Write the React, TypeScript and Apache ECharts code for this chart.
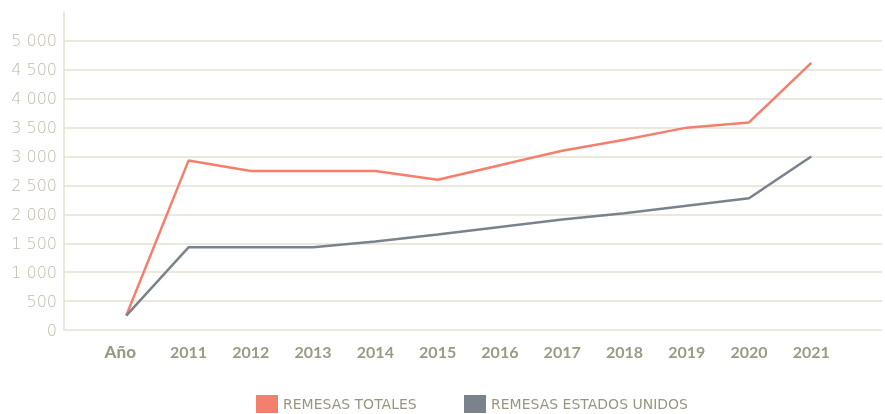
import React, { useEffect, useRef } from "react";
import * as echarts from "echarts";

const categories = ["Año", "2011", "2012", "2013", "2014", "2015", "2016", "2017", "2018", "2019", "2020", "2021"];
const remesasTotales = [250, 2930, 2750, 2750, 2750, 2600, 2850, 3100, 3290, 3500, 3590, 4620];
const remesasEEUU = [250, 1430, 1430, 1430, 1530, 1650, 1780, 1910, 2020, 2150, 2280, 3000];
const yTicks = [0, 500, 1000, 1500, 2000, 2500, 3000, 3500, 4000, 4500, 5000, 5500];

const ORANGE = "#f47f6d";
const GRAY = "#7a838b";
const GRID = "#e5e2d3";

export default function App() {
  const ref = useRef<HTMLDivElement>(null);
  useEffect(() => {
    if (!ref.current) return;
    const chart = echarts.init(ref.current, null, { renderer: "svg" });
    const toPairs = (arr: number[]) => arr.map((v, i) => [i + 1, v]);
    chart.setOption({
      animation: false,
      grid: { left: 64, width: 821, top: 12, height: 318, containLabel: false },
      xAxis: {
        type: "value",
        min: 0,
        max: 13.136,
        interval: 1,
        axisLine: { show: false },
        axisTick: { show: false },
        splitLine: { show: false },
        axisLabel: {
          margin: 13,
          fontFamily: "Lato",
          fontSize: 16,
          fontWeight: 700,
          color: "#9b9986",
          formatter: (v: number) => {
            const i = Math.round(v) - 1;
            if (Math.abs(v - Math.round(v)) > 1e-6 || i < 0 || i >= categories.length) return "";
            return i === 0 ? "{a|" + categories[i] + "}" : categories[i];
          },
          rich: {
            a: { fontFamily: "Lato", fontSize: 17, fontWeight: 900, color: "#9b9986", padding: [0, 12, 0, 0] },
          },
        },
      },
      yAxis: {
        type: "value",
        min: 0,
        max: yTicks[yTicks.length - 1],
        interval: 500,
        axisLine: { show: true, lineStyle: { color: GRID, width: 1.5 } },
        axisTick: { show: false },
        splitLine: { show: true, showMaxLine: false, lineStyle: { color: GRID, width: 1.5 } },
        axisLabel: {
          showMaxLabel: false,
          margin: 7,
          fontFamily: "DejaVu Sans",
          fontWeight: 200,
          fontSize: 16,
          color: "#bdbbab",
          formatter: (v: number) => (v >= 1000 ? Math.floor(v / 1000) + " " + String(v % 1000).padStart(3, "0") : String(v)),
        },
      },
      legend: [
        {
          left: 256,
          top: 395,
          padding: 0,
          itemWidth: 22,
          itemHeight: 18,
          itemGap: 5,
          icon: "rect",
          data: ["REMESAS TOTALES"],
          textStyle: { fontFamily: "DejaVu Sans", fontSize: 14, color: "#98967f", fontWeight: 400, padding: [2, 0, 0, 0] },
        },
        {
          left: 464,
          top: 395,
          padding: 0,
          itemWidth: 22,
          itemHeight: 18,
          icon: "rect",
          data: ["REMESAS ESTADOS UNIDOS"],
          textStyle: { fontFamily: "DejaVu Sans", fontSize: 14, color: "#98967f", fontWeight: 400, padding: [2, 0, 0, 0] },
        },
      ],
      series: [
        {
          name: "REMESAS TOTALES",
          type: "line",
          data: toPairs(remesasTotales),
          showSymbol: false,
          lineStyle: { color: ORANGE, width: 2.5 },
          itemStyle: { color: ORANGE },
        },
        {
          name: "REMESAS ESTADOS UNIDOS",
          type: "line",
          data: toPairs(remesasEEUU),
          showSymbol: false,
          lineStyle: { color: GRAY, width: 2.5 },
          itemStyle: { color: GRAY },
        },
      ],
    });
    return () => chart.dispose();
  }, []);
  return <div ref={ref} style={{ width: 885, height: 414, position: "fixed", left: 0, top: 0 }} />;
}
